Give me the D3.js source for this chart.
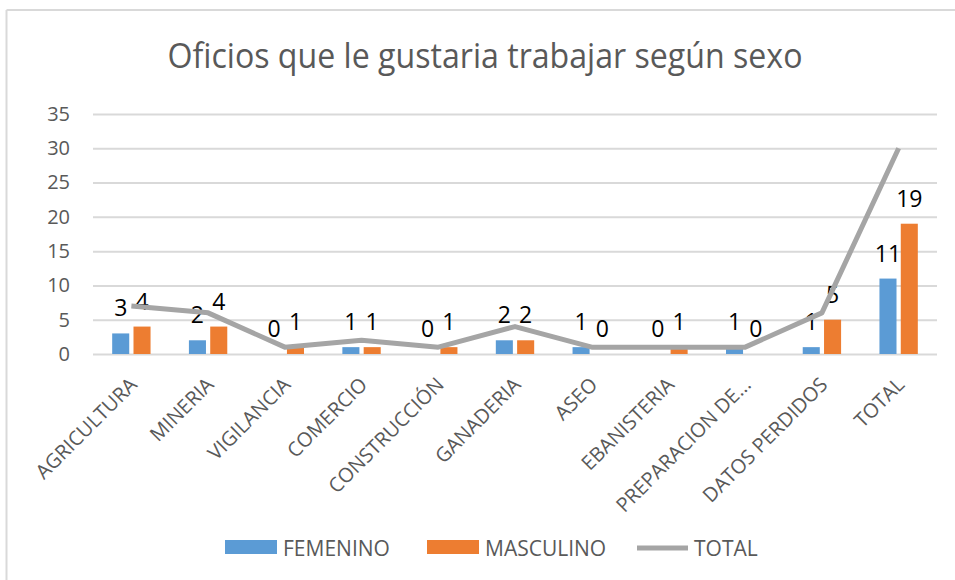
<!DOCTYPE html>
<head>
  <meta charset="utf-8">
  <title>Oficios que le gustaria trabajar</title>
  <style>
    body { margin: 0; background: #fff; }
    text { font-family: "Open Sans", "Noto Sans", sans-serif; }
  </style>
</head>
<body>
<script src="https://d3js.org/d3.v7.min.js"></script>
<script>
// chart data
var categories = ["AGRICULTURA", "MINERIA", "VIGILANCIA", "COMERCIO", "CONSTRUCCIÓN",
  "GANADERIA", "ASEO", "EBANISTERIA", "PREPARACION DE...", "DATOS PERDIDOS", "TOTAL"];
var femenino  = [3, 2, 0, 1, 0, 2, 1, 0, 1, 1, 11];
var masculino = [4, 4, 1, 1, 1, 2, 0, 1, 0, 5, 19];
var total     = [7, 6, 1, 2, 1, 4, 1, 1, 1, 6, 30];
var seriesNames = ["FEMENINO", "MASCULINO", "TOTAL"];
var yTicks = [0, 5, 10, 15, 20, 25, 30, 35];

var W = 955, H = 580;
var margin = {top: 114, right: 18, bottom: 226, left: 93},
    width = W - margin.left - margin.right,
    height = H - margin.top - margin.bottom;

var colors = {FEMENINO: "#5b9bd5", MASCULINO: "#ed7d31", TOTAL: "#a5a5a5"};

var svg = d3.select("body").append("svg")
    .attr("width", W)
    .attr("height", H);

// chart area border (only top and left show in the crop)
svg.append("line").attr("x1", 6.5).attr("x2", W).attr("y1", 10).attr("y2", 10)
    .attr("stroke", "#d9d9d9").attr("stroke-width", 2);
svg.append("line").attr("x1", 6.5).attr("x2", 6.5).attr("y1", 10).attr("y2", H)
    .attr("stroke", "#d9d9d9").attr("stroke-width", 2);

// title
svg.append("text")
    .attr("x", 485)
    .attr("y", 68)
    .attr("text-anchor", "middle")
    .attr("fill", "#595959")
    .attr("textLength", 635)
    .attr("lengthAdjust", "spacingAndGlyphs")
    .style("font-size", "35px")
    .text("Oficios que le gustaria trabajar según sexo");

var g = svg.append("g")
    .attr("transform", "translate(" + margin.left + "," + margin.top + ")");

var x0 = d3.scaleBand().domain(categories).range([0, width]);
var bw = x0.bandwidth();
var x1 = d3.scaleBand().domain(["FEMENINO", "MASCULINO"])
    .range([bw * 0.25, bw * 0.75]).paddingInner(0.2);
var y = d3.scaleLinear().domain([0, 35]).range([height, 0]);

// y axis + gridlines
var yAxis = g.append("g")
    .call(d3.axisLeft(y).tickValues(yTicks).tickSize(-width).tickPadding(23));
yAxis.select(".domain").remove();
yAxis.selectAll(".tick line").attr("stroke", "#d9d9d9").attr("stroke-width", 2);
yAxis.selectAll(".tick text")
    .attr("fill", "#595959")
    .style("font-size", "20px");

// x axis labels
var xAxis = g.append("g")
    .attr("transform", "translate(0," + height + ")")
    .call(d3.axisBottom(x0).tickSize(0).tickPadding(0));
xAxis.select(".domain").remove();
xAxis.selectAll(".tick text")
    .attr("fill", "#595959")
    .style("font-size", "20px")
    .attr("text-anchor", "end")
    .attr("dy", "0.35em")
    .attr("y", 0)
    .attr("transform", "translate(2,27) rotate(-45)");

// bars
var rows = categories.map(function(c, i) {
  return {cat: c, vals: [{key: "FEMENINO", v: femenino[i]}, {key: "MASCULINO", v: masculino[i]}]};
});

var groups = g.selectAll(".grp")
    .data(rows)
  .enter().append("g")
    .attr("class", "grp")
    .attr("transform", function(d) { return "translate(" + x0(d.cat) + ",0)"; });

groups.selectAll("rect")
    .data(function(d) { return d.vals; })
  .enter().append("rect")
    .attr("x", function(d) { return x1(d.key); })
    .attr("width", x1.bandwidth())
    .attr("y", function(d) { return y(d.v); })
    .attr("height", function(d) { return height - y(d.v); })
    .attr("fill", function(d) { return colors[d.key]; });

// total line
var line = d3.line()
    .x(function(d, i) { return x0(categories[i]) + bw / 2; })
    .y(function(d) { return y(d); });

g.append("path")
    .datum(total)
    .attr("fill", "none")
    .attr("stroke", colors.TOTAL)
    .attr("stroke-width", 5)
    .attr("stroke-linejoin", "round")
    .attr("d", line);

// data labels for bars
groups.selectAll(".lbl")
    .data(function(d) { return d.vals; })
  .enter().append("text")
    .attr("class", "lbl")
    .attr("x", function(d) { return x1(d.key) + x1.bandwidth() / 2; })
    .attr("y", function(d) { return y(d.v) - 17; })
    .attr("text-anchor", "middle")
    .attr("fill", "#000")
    .style("font-size", "23px")
    .text(function(d) { return d.v; });

// legend
var legend = svg.append("g").attr("transform", "translate(0,547)");
var legendItems = [
  {key: "FEMENINO", x: 225, tx: 283},
  {key: "MASCULINO", x: 427, tx: 485},
  {key: "TOTAL", x: 637, tx: 694}
];
legendItems.forEach(function(it) {
  if (it.key === "TOTAL") {
    legend.append("line")
        .attr("x1", it.x).attr("x2", it.x + 51)
        .attr("y1", 1).attr("y2", 1)
        .attr("stroke", colors.TOTAL).attr("stroke-width", 5);
  } else {
    legend.append("rect")
        .attr("x", it.x).attr("y", -7)
        .attr("width", 52).attr("height", 14)
        .attr("fill", colors[it.key]);
  }
  legend.append("text")
      .attr("x", it.tx).attr("y", 9)
      .attr("fill", "#595959")
      .style("font-size", "21px")
      .text(it.key);
});
</script>
</body>
